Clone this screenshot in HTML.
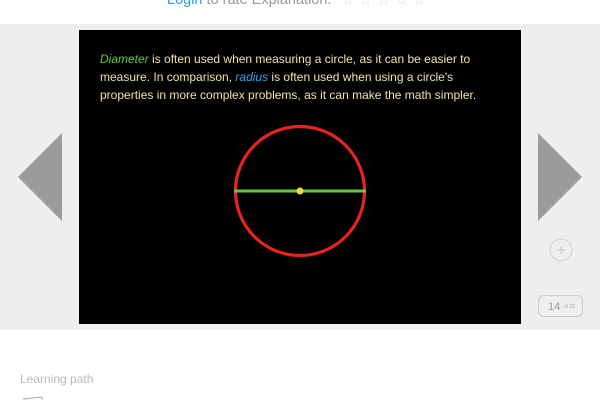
<!DOCTYPE html>
<html><head><meta charset="utf-8"><style>
body{margin:0;width:600px;height:400px;overflow:hidden;background:#fff;font-family:"Liberation Sans",sans-serif;position:relative}
.abs{position:absolute}
</style></head><body>
<div class="abs" style="left:167px;top:-10px;font-size:14.5px;color:#999;white-space:nowrap;line-height:20px">
<span style="color:#2a9ce8">Login</span> to rate Explanation.</div>
<div class="abs" style="left:341px;top:-9px;font-size:15px;color:#ddd;letter-spacing:4.5px;line-height:20px">☆☆☆☆☆</div>
<div class="abs" style="left:0;top:24px;width:600px;height:306px;background:#eeeeee"></div>
<div class="abs" style="left:79px;top:30px;width:442px;height:294px;background:#000"></div>
<div class="abs" style="left:100px;top:50px;width:392px;font-size:12px;line-height:18px;color:#efe3a6">
<i style="color:#5fcc3a">Diameter</i> is often used when measuring a circle, as it can be easier to measure. In comparison, <i style="color:#3aa0e8">radius</i> is often used when using a circle's properties in more complex problems, as it can make the math simpler.</div>
<svg class="abs" style="left:0;top:0" width="600" height="400">
<circle cx="300" cy="191" r="64.5" fill="none" stroke="#e8231e" stroke-width="3.2"/>
<line x1="234" y1="191" x2="366" y2="191" stroke="#62cc32" stroke-width="3"/>
<circle cx="300" cy="191" r="3.5" fill="#f0d840"/>
<polygon points="18,177 62,133 62,221" fill="#9b9b9b"/>
<polygon points="582,177 538,133 538,221" fill="#9b9b9b"/>
<g>
<circle cx="561" cy="250" r="11" fill="none" stroke="#d0d0d0" stroke-width="1"/>
<path d="M561 246 L561 254 M557 250 L565 250" stroke="#c4c4c4" stroke-width="1"/>
</g>
<rect x="538.5" y="295.5" width="44" height="21" rx="5" fill="none" stroke="#ccc"/>
<text x="548" y="310" font-size="11" fill="#999" font-family="Liberation Sans">14</text>
<text x="564" y="308" font-size="5" fill="#aaa" font-family="Liberation Sans">of 26</text>
<path d="M24 400 L24 399 L42 397 L42 400" fill="none" stroke="#aaa"/>
</svg>
<div class="abs" style="left:20px;top:372px;font-size:12px;color:#bbb">Learning path</div>
</body></html>
